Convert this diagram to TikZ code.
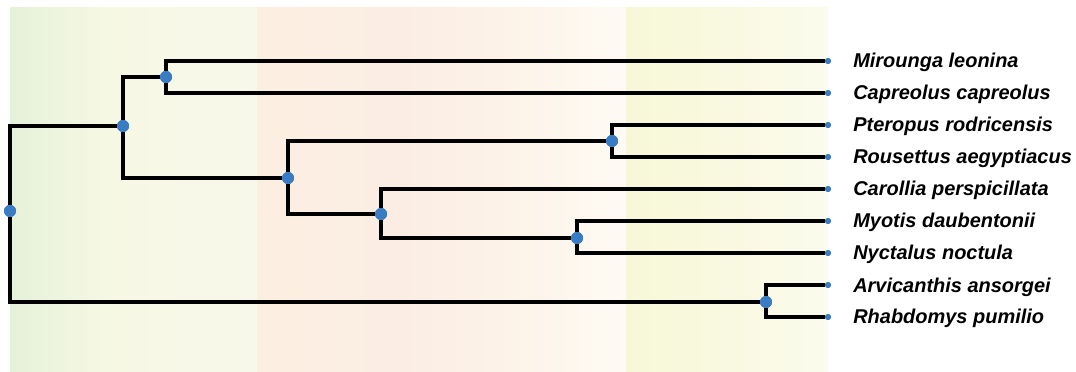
\documentclass[tikz,border=0pt]{standalone}
\usepackage{fontspec}
\setmainfont{Liberation Sans}
\usepackage{tikz}

\definecolor{dotblue}{RGB}{58,124,196}
\definecolor{bgA}{RGB}{230,241,218}
\definecolor{bgB}{RGB}{238,245,222}
\definecolor{bgC}{RGB}{246,248,228}
\definecolor{bgD}{RGB}{248,248,234}
\definecolor{bgE}{RGB}{252,239,226}
\definecolor{bgF}{RGB}{251,237,228}
\definecolor{bgG}{RGB}{253,244,234}
\definecolor{bgH}{RGB}{254,251,244}
\definecolor{bgI}{RGB}{247,247,216}
\definecolor{bgJ}{RGB}{249,249,224}
\definecolor{bgK}{RGB}{251,251,238}

\begin{document}
\begin{tikzpicture}[x=0.025cm, y=-0.025cm,
    branch/.style={line width=2.3pt, black},
    split/.style={circle, fill=dotblue, inner sep=0pt, minimum size=0.3cm},
    tip/.style={circle, fill=dotblue, inner sep=0pt, minimum size=0.15cm},
    taxon/.style={anchor=base west, inner sep=0pt,
      font=\fontsize{14.2}{17}\selectfont\bfseries\itshape}]
    \useasboundingbox (0,0) rectangle (1076,372);
    % background bands
    \shade [left color=bgA, right color=bgB] (10,8) rectangle (60,372);
    \shade [left color=bgB, right color=bgC] (60,8) rectangle (110,372);
    \shade [left color=bgC, right color=bgD] (110,8) rectangle (257,372);
    \shade [left color=bgE, right color=bgF] (257,8) rectangle (400,372);
    \shade [left color=bgF, right color=bgG] (400,8) rectangle (530,372);
    \shade [left color=bgG, right color=bgH] (530,8) rectangle (626,372);
    \shade [left color=bgI, right color=bgJ] (626,8) rectangle (725,372);
    \shade [left color=bgJ, right color=bgK] (725,8) rectangle (828,372);

    % leaves
    \node [tip] (mir) at (828,61) {};
    \node [tip] (cap) at (828,93) {};
    \node [tip] (pte) at (828,125) {};
    \node [tip] (rou) at (828,157) {};
    \node [tip] (car) at (828,189) {};
    \node [tip] (myo) at (828,221) {};
    \node [tip] (nyc) at (828,253) {};
    \node [tip] (arv) at (828,285) {};
    \node [tip] (rha) at (828,317) {};

    % splits
    \node [split] (root) at (10,211) {};
    \node [split] (lau) at (123,126) {};
    \node [split] (mc) at (166,77) {};
    \node [split] (bats) at (288,178) {};
    \node [split] (pr) at (612,141) {};
    \node [split] (yang) at (381,214) {};
    \node [split] (mn) at (577,238) {};
    \node [split] (ar) at (766,302) {};

    % branches
    \draw [branch] (root) |- (lau);
    \draw [branch] (root) |- (ar);
    \draw [branch] (lau) |- (mc);
    \draw [branch] (lau) |- (bats);
    \draw [branch] (mc) |- (mir);
    \draw [branch] (mc) |- (cap);
    \draw [branch] (bats) |- (pr);
    \draw [branch] (bats) |- (yang);
    \draw [branch] (pr) |- (pte);
    \draw [branch] (pr) |- (rou);
    \draw [branch] (yang) |- (car);
    \draw [branch] (yang) |- (mn);
    \draw [branch] (mn) |- (myo);
    \draw [branch] (mn) |- (nyc);
    \draw [branch] (ar) |- (arv);
    \draw [branch] (ar) |- (rha);

    % redraw dots on top
    \foreach \n in {root,lau,mc,bats,pr,yang,mn,ar}
      \fill [dotblue] (\n) circle [radius=0.15cm];
    \foreach \n in {mir,cap,pte,rou,car,myo,nyc,arv,rha}
      \fill [dotblue] (\n) circle [radius=0.075cm];

    % labels
    \node [taxon] (lmir) at (853,68) {Mirounga leonina};
    \node [taxon] (lcap) at (853,100) {Capreolus capreolus};
    \node [taxon] (lpte) at (853,132) {Pteropus rodricensis};
    \node [taxon] (lrou) at (853,164) {Rousettus aegyptiacus};
    \node [taxon] (lcar) at (853,196) {Carollia perspicillata};
    \node [taxon] (lmyo) at (853,228) {Myotis daubentonii};
    \node [taxon] (lnyc) at (853,260) {Nyctalus noctula};
    \node [taxon] (larv) at (853,292) {Arvicanthis ansorgei};
    \node [taxon] (lrha) at (853,324) {Rhabdomys pumilio};
\end{tikzpicture}
\end{document}
